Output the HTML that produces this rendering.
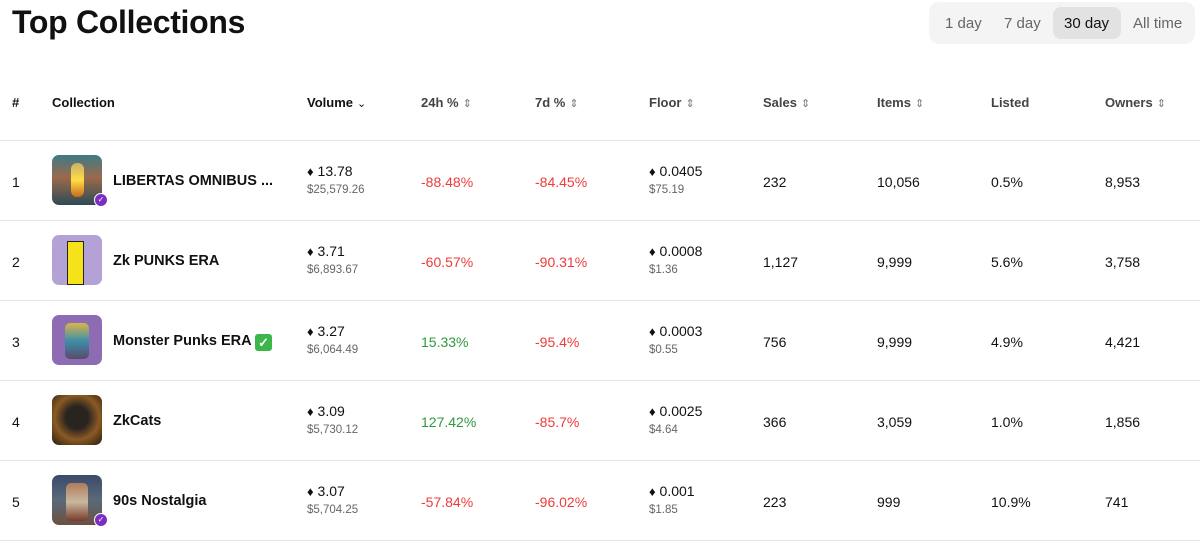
<!DOCTYPE html>
<html><head><meta charset="utf-8"><style>
*{margin:0;padding:0;box-sizing:border-box}
body{width:1200px;height:546px;background:#fff;font-family:"Liberation Sans",Arial,sans-serif;color:#111;position:relative;overflow:hidden}
.abs{position:absolute;white-space:nowrap}
h1{position:absolute;left:12px;top:4px;font-size:32px;font-weight:700;letter-spacing:-0.3px}
.tog{position:absolute;left:929px;top:2px;width:266px;height:42px;background:#f4f4f4;border-radius:10px}
.sel{position:absolute;left:1053px;top:7px;width:68px;height:32px;background:#e2e2e2;border-radius:8px}
.hd{position:absolute;top:95px;font-size:13px;font-weight:700;color:#444;white-space:nowrap}
.ar{font-weight:400;font-size:11px;color:#777;margin-left:4px}
.line{position:absolute;left:0;width:1200px;height:1px;background:#e4e4e4}
.num{position:absolute;left:12px;font-size:14px}
.img{position:absolute;left:52px;width:50px;height:50px;border-radius:7px;overflow:hidden}
.badge{position:absolute;width:14px;height:14px;border-radius:50%;background:#7b2fc0;border:1.5px solid #fff;color:#fff;font-size:8px;line-height:11px;text-align:center}
.name{position:absolute;left:113px;font-size:14.5px;font-weight:700;white-space:nowrap}
.v{position:absolute;font-size:14px;white-space:nowrap}
.u{position:absolute;font-size:11.5px;color:#666}
.t{position:absolute;font-size:14px}
.red{color:#f03a3a}.grn{color:#2c9a3c}
.e{font-size:13px}
</style></head><body>
<h1>Top Collections</h1>
<div class="tog"></div><div class="sel"></div>
<span class="abs" style="left:945px;top:15px;font-size:15px;color:#666">1 day</span>
<span class="abs" style="left:1004px;top:15px;font-size:15px;color:#666">7 day</span>
<span class="abs" style="left:1064px;top:15px;font-size:15px;color:#111">30 day</span>
<span class="abs" style="left:1133px;top:15px;font-size:15px;color:#666">All time</span>

<div class="hd" style="left:12px;color:#111">#</div>
<div class="hd" style="left:52px;color:#111">Collection</div>
<div class="hd" style="left:307px;color:#111">Volume<span class="ar" style="color:#111">&#8964;</span></div>
<div class="hd" style="left:421px">24h %<span class="ar">&#8661;</span></div>
<div class="hd" style="left:535px">7d %<span class="ar">&#8661;</span></div>
<div class="hd" style="left:649px">Floor<span class="ar">&#8661;</span></div>
<div class="hd" style="left:763px">Sales<span class="ar">&#8661;</span></div>
<div class="hd" style="left:877px">Items<span class="ar">&#8661;</span></div>
<div class="hd" style="left:991px">Listed</div>
<div class="hd" style="left:1105px">Owners<span class="ar">&#8661;</span></div>

<div class="line" style="top:140px"></div>
<div class="line" style="top:220px"></div>
<div class="line" style="top:300px"></div>
<div class="line" style="top:380px"></div>
<div class="line" style="top:460px"></div>
<div class="line" style="top:540px"></div>

<div class="num" style="top:174px">1</div>
<div class="img" style="top:155px;background:linear-gradient(180deg,#3e7a86 0%,#9b6a4a 45%,#2e4a55 100%)"><div style="position:absolute;left:19px;top:8px;width:13px;height:34px;border-radius:6px;background:linear-gradient(#c9b06a,#ffdd44,#c96a20)"></div></div>
<div class="badge" style="left:94px;top:193px">✓</div>
<div class="name" style="top:173px">LIBERTAS OMNIBUS ...</div>
<div class="v" style="left:307px;top:163px"><span class="e">&#9830;</span> 13.78</div>
<div class="u" style="left:307px;top:184px">$25,579.26</div>
<div class="t red" style="left:421px;top:174px">-88.48%</div>
<div class="t red" style="left:535px;top:174px">-84.45%</div>
<div class="v" style="left:649px;top:163px"><span class="e">&#9830;</span> 0.0405</div>
<div class="u" style="left:649px;top:184px">$75.19</div>
<div class="t" style="left:763px;top:174px">232</div>
<div class="t" style="left:877px;top:174px">10,056</div>
<div class="t" style="left:991px;top:174px">0.5%</div>
<div class="t" style="left:1105px;top:174px">8,953</div>

<div class="num" style="top:254px">2</div>
<div class="img" style="top:235px;background:#b4a2d6"><div style="position:absolute;left:15px;top:6px;width:17px;height:44px;background:#f5e21a;border:1px solid #222"></div></div>
<div class="name" style="top:253px">Zk PUNKS ERA</div>
<div class="v" style="left:307px;top:243px"><span class="e">&#9830;</span> 3.71</div>
<div class="u" style="left:307px;top:264px">$6,893.67</div>
<div class="t red" style="left:421px;top:254px">-60.57%</div>
<div class="t red" style="left:535px;top:254px">-90.31%</div>
<div class="v" style="left:649px;top:243px"><span class="e">&#9830;</span> 0.0008</div>
<div class="u" style="left:649px;top:264px">$1.36</div>
<div class="t" style="left:763px;top:254px">1,127</div>
<div class="t" style="left:877px;top:254px">9,999</div>
<div class="t" style="left:991px;top:254px">5.6%</div>
<div class="t" style="left:1105px;top:254px">3,758</div>

<div class="num" style="top:334px">3</div>
<div class="img" style="top:315px;background:#8e6cb4"><div style="position:absolute;left:13px;top:8px;width:24px;height:36px;border-radius:5px;background:linear-gradient(#d9b54a,#3d8ea8,#5a4a6a)"></div></div>
<div class="name" style="top:333px">Monster Punks ERA <span style="display:inline-block;width:17px;height:17px;background:#3cb54a;border-radius:3px;color:#fff;font-size:13px;line-height:17px;text-align:center;vertical-align:-2px">✓</span></div>
<div class="v" style="left:307px;top:323px"><span class="e">&#9830;</span> 3.27</div>
<div class="u" style="left:307px;top:344px">$6,064.49</div>
<div class="t grn" style="left:421px;top:334px">15.33%</div>
<div class="t red" style="left:535px;top:334px">-95.4%</div>
<div class="v" style="left:649px;top:323px"><span class="e">&#9830;</span> 0.0003</div>
<div class="u" style="left:649px;top:344px">$0.55</div>
<div class="t" style="left:763px;top:334px">756</div>
<div class="t" style="left:877px;top:334px">9,999</div>
<div class="t" style="left:991px;top:334px">4.9%</div>
<div class="t" style="left:1105px;top:334px">4,421</div>

<div class="num" style="top:414px">4</div>
<div class="img" style="top:395px;background:radial-gradient(circle at 50% 45%,#2a2420 30%,#8a5a22 60%,#2a1a10 100%)"></div>
<div class="name" style="top:413px">ZkCats</div>
<div class="v" style="left:307px;top:403px"><span class="e">&#9830;</span> 3.09</div>
<div class="u" style="left:307px;top:424px">$5,730.12</div>
<div class="t grn" style="left:421px;top:414px">127.42%</div>
<div class="t red" style="left:535px;top:414px">-85.7%</div>
<div class="v" style="left:649px;top:403px"><span class="e">&#9830;</span> 0.0025</div>
<div class="u" style="left:649px;top:424px">$4.64</div>
<div class="t" style="left:763px;top:414px">366</div>
<div class="t" style="left:877px;top:414px">3,059</div>
<div class="t" style="left:991px;top:414px">1.0%</div>
<div class="t" style="left:1105px;top:414px">1,856</div>

<div class="num" style="top:494px">5</div>
<div class="img" style="top:475px;background:linear-gradient(180deg,#3a4a6a,#5a6a7a 50%,#6a5040)"><div style="position:absolute;left:14px;top:8px;width:22px;height:38px;border-radius:5px;background:linear-gradient(#b07a5a,#c9b8a0,#7a3a2a)"></div></div>
<div class="badge" style="left:94px;top:513px">✓</div>
<div class="name" style="top:493px">90s Nostalgia</div>
<div class="v" style="left:307px;top:483px"><span class="e">&#9830;</span> 3.07</div>
<div class="u" style="left:307px;top:504px">$5,704.25</div>
<div class="t red" style="left:421px;top:494px">-57.84%</div>
<div class="t red" style="left:535px;top:494px">-96.02%</div>
<div class="v" style="left:649px;top:483px"><span class="e">&#9830;</span> 0.001</div>
<div class="u" style="left:649px;top:504px">$1.85</div>
<div class="t" style="left:763px;top:494px">223</div>
<div class="t" style="left:877px;top:494px">999</div>
<div class="t" style="left:991px;top:494px">10.9%</div>
<div class="t" style="left:1105px;top:494px">741</div>
</body></html>
